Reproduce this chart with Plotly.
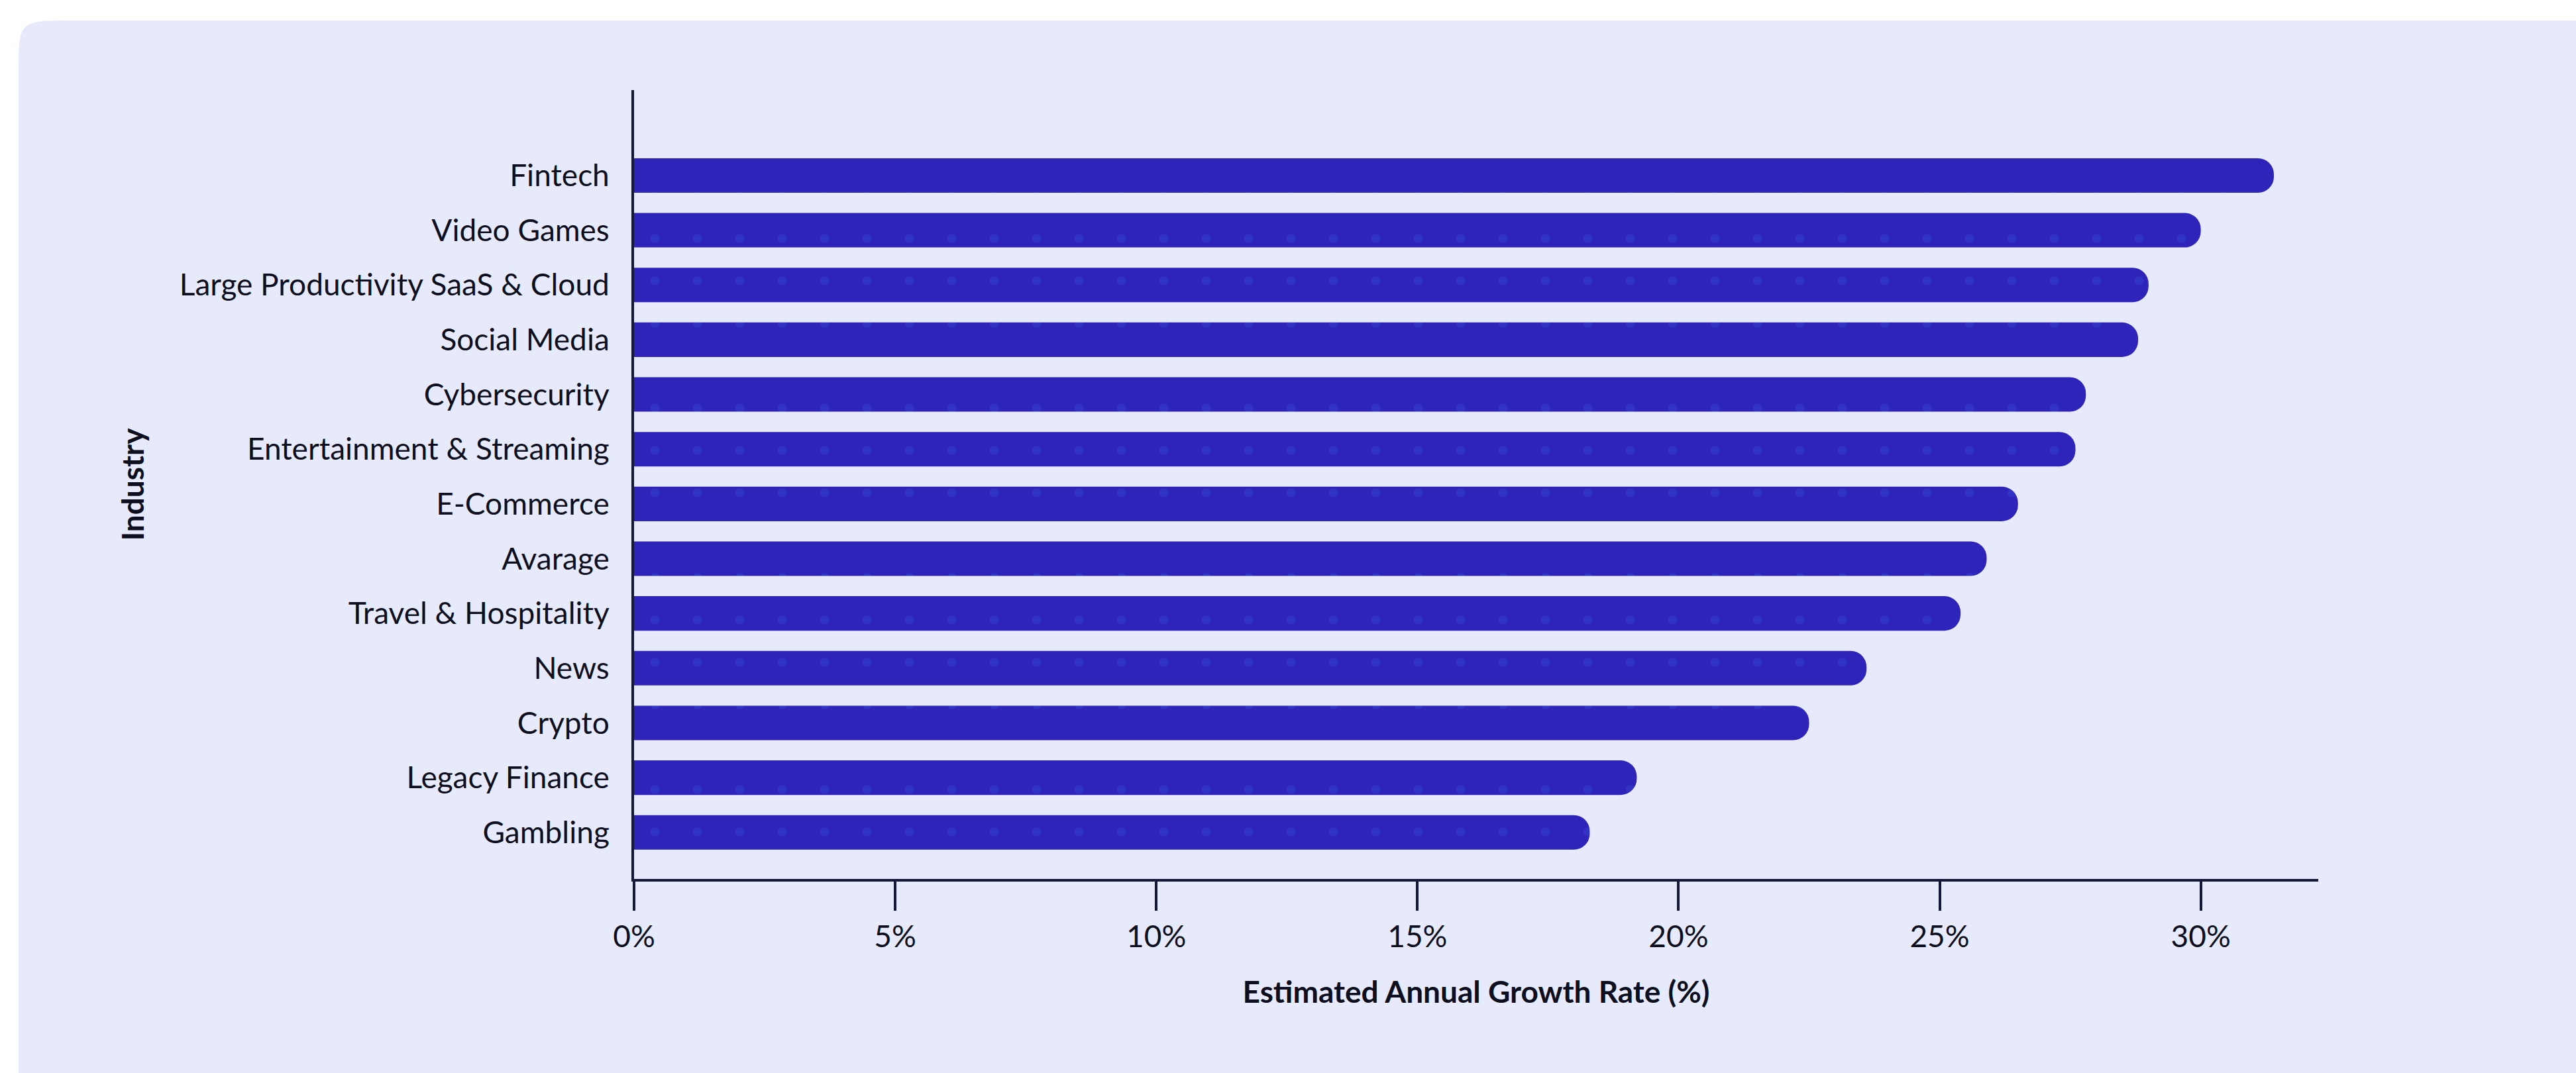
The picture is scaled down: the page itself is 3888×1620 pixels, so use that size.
import plotly.graph_objects as go

industries = [
    "Fintech", "Video Games", "Large Productivity SaaS & Cloud", "Social Media",
    "Cybersecurity", "Entertainment & Streaming", "E-Commerce", "Avarage",
    "Travel & Hospitality", "News", "Crypto", "Legacy Finance", "Gambling",
]
growth = [31.4, 30.0, 29.0, 28.8, 27.8, 27.6, 26.5, 25.9, 25.4, 23.6, 22.5, 19.2, 18.3]
x_ticks = [0, 5, 10, 15, 20, 25, 30]
x_tick_labels = ["0%", "5%", "10%", "15%", "20%", "25%", "30%"]

W, H = 3888, 1620
PL, PR, PT, PB = 957, 3499, 136, 1327  # plot area in pixels
BAR = "#2E24BA"
BG = "#E7EAFB"
INK = "#0D0F1F"
LINE = "#14193A"
FONT = "Lato, 'Open Sans', sans-serif"
FS = 46

fig = go.Figure(go.Bar(
    x=growth, y=industries, orientation="h", width=0.63,
    marker=dict(color=BAR, line=dict(width=0), cornerradius="48%",
                pattern=dict(shape=".", fgcolor="#3C5BE0", fgopacity=0.28,
                             size=64, solidity=0.035, bgcolor=BAR)),
    showlegend=False, hoverinfo="x+y",
))

def px_to_paper(px, py):
    return (px - PL) / (PR - PL), (PB - py) / (PB - PT)

# rounded background panel
x0, y0, x1, y1, r = 28, 31, 3960, 1700, 80
def P(x, y):
    a, b = px_to_paper(x, y)
    return f"{a:.5f},{b:.5f}"
path = (f"M {P(x0 + r, y0)} L {P(x1 - r, y0)} C {P(x1, y0)} {P(x1, y0)} {P(x1, y0 + r)} "
        f"L {P(x1, y1 - r)} C {P(x1, y1)} {P(x1, y1)} {P(x1 - r, y1)} "
        f"L {P(x0 + r, y1)} C {P(x0, y1)} {P(x0, y1)} {P(x0, y1 - r)} "
        f"L {P(x0, y0 + r)} C {P(x0, y0)} {P(x0, y0)} {P(x0 + r, y0)} Z")
fig.add_shape(type="path", path=path, xref="paper", yref="paper",
              fillcolor=BG, line=dict(width=0), layer="below")

fig.update_layout(
    width=W, height=H,
    margin=dict(l=PL, r=W - PR, t=PT, b=H - PB, pad=0),
    paper_bgcolor="white", plot_bgcolor="rgba(0,0,0,0)",
    font=dict(family=FONT, color=INK, size=FS),
    bargap=0.37,
    xaxis=dict(
        range=[0, 32.25], tickmode="array", tickvals=x_ticks, ticktext=x_tick_labels,
        showgrid=False, zeroline=False, showline=True, linecolor=LINE, linewidth=4,
        ticks="outside", ticklen=44, tickwidth=4, tickcolor=LINE,
        tickfont=dict(size=FS, color=INK),
        title=dict(text="<b>Estimated Annual Growth Rate (%)</b>",
                   font=dict(size=FS, color=INK), standoff=44),
    ),
    yaxis=dict(
        categoryorder="array", categoryarray=industries,
        range=[12.85, -1.56],
        showgrid=False, zeroline=False, showline=True, linecolor=LINE, linewidth=4,
        ticks="", ticklabelstandoff=24,
        tickfont=dict(size=FS, color=INK),
        title=dict(text="<b>Industry</b>", font=dict(size=FS, color=INK), standoff=40),
    ),
)

fig.write_html("out.html")
